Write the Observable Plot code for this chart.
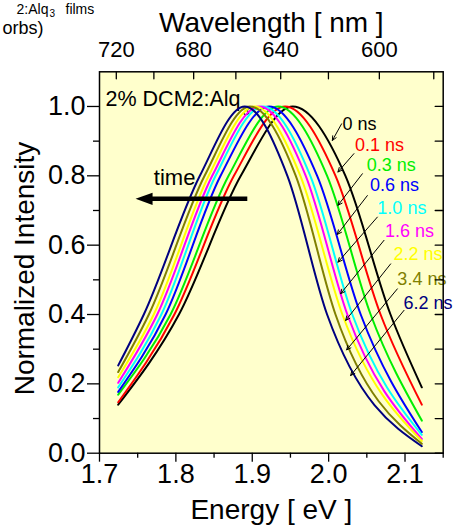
<!DOCTYPE html>
<html><head><meta charset="utf-8">
<script src="https://cdn.jsdelivr.net/npm/d3@7"></script>
<script src="https://cdn.jsdelivr.net/npm/@observablehq/plot@0.6"></script>
<style>
html,body{margin:0;padding:0;background:#fff;overflow:hidden}
#chart svg{display:block}
</style></head><body>
<div id="chart"></div>
<script>
// ---- data ----
const series = ["0 ns","0.1 ns","0.3 ns","0.6 ns","1.0 ns","1.6 ns","2.2 ns","3.4 ns","6.2 ns"];
const colors = ["#000000","#ff0000","#00ee00","#0000ff","#00ffff","#ff00ff","#ffff00","#808000","#000080"];
// curve start / end energies (eV)
const eStart = 1.7245;
const eEnd = 2.122;
// intensity at the start and end of each curve
const iStart = [0.140,0.147,0.169,0.177,0.190,0.203,0.219,0.234,0.253];
const iEnd   = [0.190,0.140,0.094,0.061,0.053,0.041,0.035,0.027,0.020];
// energies where each curve crosses given intensity levels (L = low-energy side, R = high-energy side)
const e40L = [1.804,1.798,1.793,1.7865,1.781,1.7756,1.771,1.7646,1.758];
const e80L = [1.885,1.876,1.869,1.8585,1.852,1.8476,1.843,1.8376,1.8314];
const ePeak = [1.953,1.943,1.934,1.922,1.914,1.909,1.903,1.897,1.890];
const e80R = [2.022,2.009,1.998,1.985,1.976,1.970,1.963,1.957,1.946];
const e40R = [2.081,2.068,2.055,2.042,2.031,2.0245,2.018,2.009,1.998];
// label positions and annotation arrows (data units)
const labelE = [2.018,2.0345,2.0498,2.0541,2.0638,2.0738,2.0848,2.090,2.0979];
const labelI = [0.931,0.873,0.815,0.756,0.689,0.623,0.558,0.484,0.417];
const arrowE1 = [2.017,2.0331,2.0442,2.0507,2.0638,2.0725,2.0812,2.090,2.0987];
const arrowI1 = [0.950,0.864,0.806,0.743,0.681,0.614,0.546,0.474,0.412];
const arrowE2 = [2.0049,2.0122,2.0122,2.0114,2.0122,2.0157,2.0223,2.0236,2.0288];
const arrowI2 = [0.902,0.811,0.715,0.631,0.551,0.460,0.383,0.298,0.224];
// "time" arrow
const timeTail = 1.8935, timeTip = 1.7472, timeShaftEnd = 1.7603, timeI = 0.7338;
// ticks
const xMajor = [1.7,1.8,1.9,2.0,2.1];
const xMinor = [1.75,1.85,1.95,2.05,2.15];
const yMajor = [0,0.2,0.4,0.6,0.8,1.0];
const yMinor = [0.1,0.3,0.5,0.7,0.9];
const wlMajor = [720,680,640,600];
const wlMinor = [700,660,620,580];
const hc = 1239.84;

// ---- build table ----
const pts = [];
series.forEach((s, i) => {
  const row = [[eStart,iStart[i]],[e40L[i],0.4],[e80L[i],0.8],[ePeak[i],1.0],[e80R[i],0.8],[e40R[i],0.4],[eEnd,iEnd[i]]];
  row.forEach(([E, I]) => pts.push({series: s, E, I}));
});
const labels = series.map((s, i) => ({s, E: labelE[i], I: labelI[i], c: colors[i]}));
const arrows = series.map((s, i) => ({x1: arrowE1[i], y1: arrowI1[i], x2: arrowE2[i], y2: arrowI2[i]}));

const tickDown = {draw(ctx, l) { ctx.moveTo(0, 0); ctx.lineTo(0, l); }};
const tickLeft = {draw(ctx, l) { ctx.moveTo(0, 0); ctx.lineTo(-l, 0); }};
const headLeft = {draw(ctx, l) { ctx.moveTo(0, 0); ctx.lineTo(l, -l * 0.36); ctx.lineTo(l, l * 0.36); ctx.closePath(); }};
const F = "'Liberation Sans', Arial, sans-serif";

const chart = Plot.plot({
  width: 453, height: 527,
  marginLeft: 99, marginRight: 10.3, marginTop: 71.3, marginBottom: 74.3,
  x: {domain: [1.7, 2.15]},
  y: {domain: [0, 1.1]},
  color: {domain: series, range: colors},
  style: {fontFamily: F, background: "white", color: "black", overflow: "visible"},
  marks: [
    Plot.frame({fill: "#ffffcc", stroke: null}),
    Plot.text(["2% DCM2:Alq"], {x: 1.7079, y: 1.0022, text: d => d, textAnchor: "start", lineAnchor: "bottom", fontSize: 21.5, fill: "black"}),
    Plot.text(["3"], {x: 1.8873, y: 0.974, text: d => d, textAnchor: "start", lineAnchor: "bottom", fontSize: 13, fill: "black"}),
    Plot.line(pts, {x: "E", y: "I", z: "series", stroke: "series", strokeWidth: 2, curve: "monotone-x"}),
    Plot.text(labels, {x: "E", y: "I", text: "s", fill: "c", textAnchor: "start", lineAnchor: "bottom", fontSize: 18}),
    Plot.arrow(arrows, {x1: "x1", y1: "y1", x2: "x2", y2: "y2", stroke: "black", strokeWidth: 1, headLength: 7, headAngle: 50}),
    Plot.text(["time"], {x: 1.7711, y: 0.7721, text: d => d, textAnchor: "start", lineAnchor: "bottom", fontSize: 22, fill: "black"}),
    Plot.link([{x1: timeTail, x2: timeShaftEnd, y: timeI}], {x1: "x1", x2: "x2", y1: "y", y2: "y", stroke: "black", strokeWidth: 4.5}),
    Plot.vector([{x: timeTip, y: timeI}], {x: "x", y: "y", length: 17, anchor: "start", shape: headLeft, fill: "black", stroke: "none"}),
    // bottom axis
    Plot.axisX({anchor: "bottom", ticks: xMajor, tickSize: 9, tickPadding: 2, tickFormat: d3.format(".1f"), fontSize: 27, label: null, strokeWidth: 1.3}),
    Plot.axisX({anchor: "bottom", ticks: xMinor, tickSize: 5, tickFormat: () => "", label: null, strokeWidth: 1.3}),
    // left axis
    Plot.axisY({anchor: "left", ticks: yMajor, tickSize: 12, tickPadding: 2, tickFormat: d3.format(".1f"), fontSize: 27, label: null, strokeWidth: 1.3}),
    Plot.axisY({anchor: "left", ticks: yMinor, tickSize: 6, tickFormat: () => "", label: null, strokeWidth: 1.3}),
    // top axis (wavelength)
    Plot.axisX({anchor: "top", ticks: wlMajor.map(l => hc / l), tickSize: 0, tickPadding: 14.6, tickFormat: d => String(Math.round(hc / d)), fontSize: 22, label: null}),
    Plot.vector(wlMajor.concat(wlMinor).map(l => hc / l), {x: d => d, frameAnchor: "top", length: 7, anchor: "start", shape: tickDown, stroke: "black", strokeWidth: 1.3}),
    // right inward ticks
    Plot.vector(yMajor.concat(yMinor), {y: d => d, frameAnchor: "right", length: 8, anchor: "start", shape: tickLeft, stroke: "black", strokeWidth: 1.3}),
    Plot.frame({stroke: "black", strokeWidth: 1.5}),
    // axis titles
    Plot.text(["Wavelength [ nm ]"], {frameAnchor: "top", text: d => d, dy: -39.6, textAnchor: "middle", lineAnchor: "bottom", fontSize: 28, fill: "black"}),
    Plot.text(["Energy [ eV ]"], {frameAnchor: "bottom", text: d => d, dy: 65.3, textAnchor: "middle", lineAnchor: "bottom", fontSize: 28, fill: "black"}),
    Plot.text(["Normalized Intensity"], {frameAnchor: "left", text: d => d, dx: -66, dy: 6, rotate: -90, textAnchor: "middle", lineAnchor: "bottom", fontSize: 28, fill: "black"}),
    // cropped page text fragments at top-left
    Plot.text(["2:Alq"], {frameAnchor: "top-left", text: d => d, dx: -51, dy: -58.3, textAnchor: "end", lineAnchor: "bottom", fontSize: 14, fill: "black"}),
    Plot.text(["3"], {frameAnchor: "top-left", text: d => d, dx: -50, dy: -55.3, textAnchor: "start", lineAnchor: "bottom", fontSize: 10, fill: "black"}),
    Plot.text(["films"], {frameAnchor: "top-left", text: d => d, dx: -34, dy: -58.3, textAnchor: "start", lineAnchor: "bottom", fontSize: 14, fill: "black"}),
    Plot.text(["orbs)"], {frameAnchor: "top-left", text: d => d, dx: -97, dy: -38.3, textAnchor: "start", lineAnchor: "bottom", fontSize: 18, fill: "black"})
  ]
});
document.getElementById("chart").append(chart);
</script>
</body></html>
